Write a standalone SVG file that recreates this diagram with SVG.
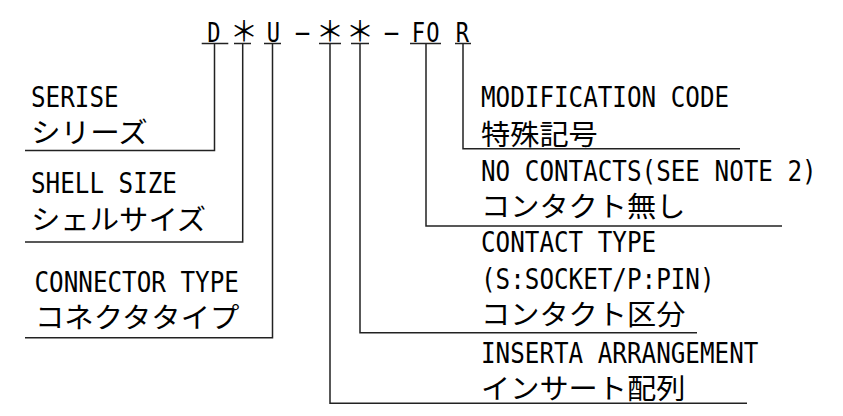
<svg xmlns="http://www.w3.org/2000/svg" width="843" height="416" viewBox="0 0 843 416">
<style>
.lat{font-family:"DejaVu Sans Mono","Liberation Mono",monospace;font-size:28px;fill:#000}
.cjk{font-family:"Noto Sans CJK JP","Noto Sans CJK SC",sans-serif;font-size:28px;fill:#000}
.tt{font-family:"DejaVu Sans Mono","Liberation Mono",monospace;font-size:26px;fill:#000;text-anchor:middle}
.ast{font-family:"Noto Sans CJK JP",sans-serif;font-size:28px;fill:#000;text-anchor:middle}
.ln{fill:none;stroke:#222;stroke-width:1.5}
</style>
<rect width="843" height="416" fill="#fff"/>
<g id="code">
<text class="tt" transform="matrix(0.85 0 0 1 214 41.7)">D</text>
<text class="ast" x="244" y="42">＊</text>
<text class="tt" transform="matrix(0.85 0 0 1 273.3 41.7)">U</text>
<text class="tt" x="302.5" y="41.7">−</text>
<text class="ast" x="330" y="42">＊</text>
<text class="ast" x="360" y="42">＊</text>
<text class="tt" x="391.5" y="41.7">−</text>
<text class="tt" transform="matrix(0.85 0 0 1 418.5 41.7)">F</text>
<text class="tt" transform="matrix(0.85 0 0 1 433 41.7)">O</text>
<text class="tt" transform="matrix(0.85 0 0 1 462.5 41.7)">R</text>
</g>
<g id="connectors">
<path class="ln" d="M201.7 43.5H228.3M214.5 43.5V150.5H25"/>
<path class="ln" d="M234 43.5H251M242.7 43.5V242H25"/>
<path class="ln" d="M264 43.5H281M272.5 43.5V337.7H25"/>
<path class="ln" d="M319 43.5H341M330 43.5V403.3H747"/>
<path class="ln" d="M351 43.5H369M360 43.5V332.7H697"/>
<path class="ln" d="M410 43.5H441M426 43.5V226H782"/>
<path class="ln" d="M455 43.5H471M463 43.5V148.7H740"/>
</g>
<g id="serise">
<text class="lat" transform="matrix(0.866 0 0 1 31 107.3)">SERISE</text>
<text class="cjk" x="31" y="143" textLength="116.8" lengthAdjust="spacingAndGlyphs">シリーズ</text>
</g>
<g id="shell-size">
<text class="lat" transform="matrix(0.866 0 0 1 31 193.3)">SHELL SIZE</text>
<text class="cjk" x="31" y="230" textLength="175.2" lengthAdjust="spacingAndGlyphs">シェルサイズ</text>
</g>
<g id="connector-type">
<text class="lat" transform="matrix(0.866 0 0 1 34.5 291.7)">CONNECTOR TYPE</text>
<text class="cjk" x="35" y="328" textLength="204.4" lengthAdjust="spacingAndGlyphs">コネクタタイプ</text>
</g>
<g id="modification-code">
<text class="lat" transform="matrix(0.866 0 0 1 481 107.3)">MODIFICATION CODE</text>
<text class="cjk" x="481" y="145" textLength="116.8" lengthAdjust="spacingAndGlyphs">特殊記号</text>
</g>
<g id="no-contacts">
<text class="lat" transform="matrix(0.866 0 0 1 481 181)">NO CONTACTS(SEE NOTE 2)</text>
<text class="cjk" x="481" y="216.5" textLength="204.4" lengthAdjust="spacingAndGlyphs">コンタクト無し</text>
</g>
<g id="contact-type">
<text class="lat" transform="matrix(0.866 0 0 1 481 252)">CONTACT TYPE</text>
<text class="lat" transform="matrix(0.866 0 0 1 481 289)">(S:SOCKET/P:PIN)</text>
<text class="cjk" x="481" y="325" textLength="204.4" lengthAdjust="spacingAndGlyphs">コンタクト区分</text>
</g>
<g id="insert-arrangement">
<text class="lat" transform="matrix(0.866 0 0 1 481 362.5)">INSERTA ARRANGEMENT</text>
<text class="cjk" x="481" y="398.5" textLength="204.4" lengthAdjust="spacingAndGlyphs">インサート配列</text>
</g>
</svg>
